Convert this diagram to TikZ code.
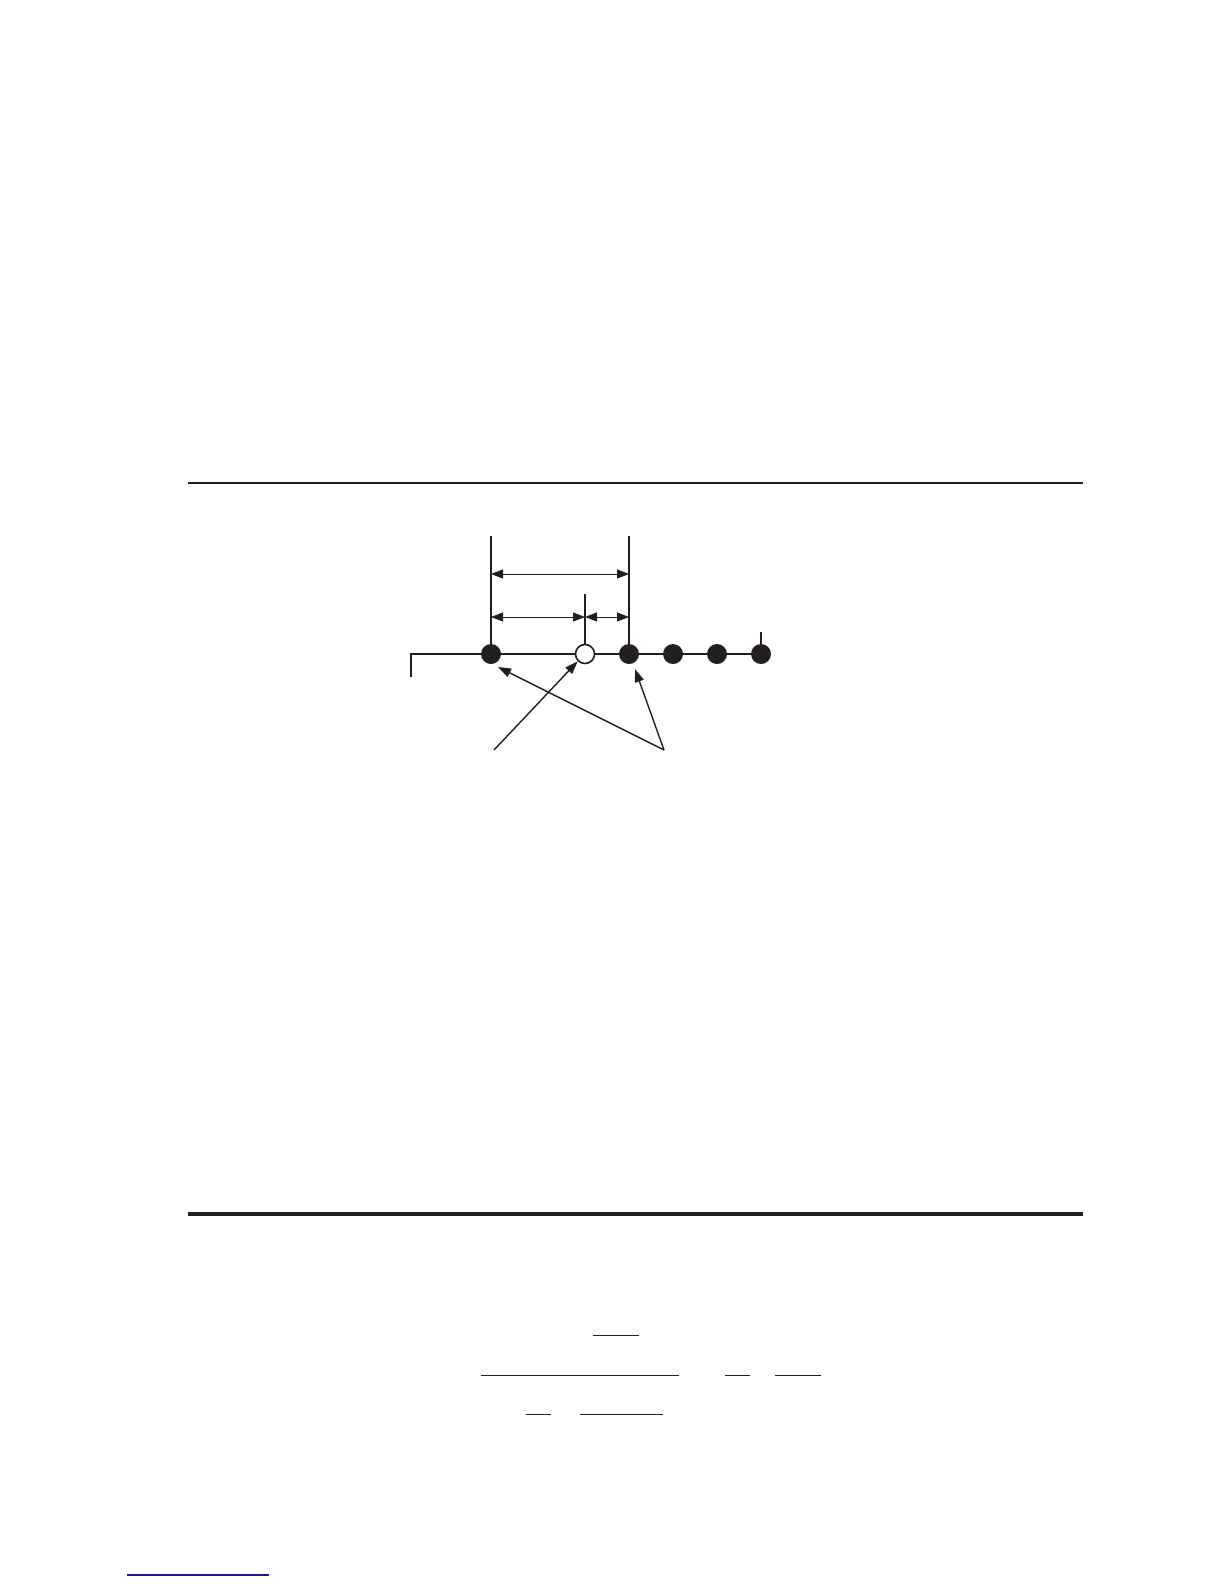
\documentclass[tikz,border=0pt]{standalone}
\usetikzlibrary{arrows.meta}
\definecolor{ink}{HTML}{231F20}
\definecolor{linkblue}{HTML}{1A1A8C}
\tikzset{
  dot/.style={circle,fill=ink,inner sep=0pt,minimum size=20pt},
  hollow/.style={circle,draw=ink,fill=white,line width=1.6pt,inner sep=0pt,minimum size=19pt},
  dim/.style={line width=1pt,draw=ink,{Triangle[length=12pt,width=9pt]}-{Triangle[length=12pt,width=9pt]}},
  pointer/.style={line width=1.4pt,draw=ink,-{Triangle[length=13pt,width=9pt]}},
  rule/.style={draw=ink,line cap=butt},
  fracbar/.style={draw=ink,line width=1pt}
}
\begin{document}
\begin{tikzpicture}[x=1pt,y=-1pt]
\useasboundingbox (0,0) rectangle (1224,1584);
% horizontal rules
\draw[rule,line width=2.2pt] (188,483) -- (1083,483);
\draw[rule,line width=3.3pt] (188,1214) -- (1083,1214);
% chain line
\coordinate (start) at (411,677);
\coordinate (corner) at (411,654);
\coordinate (end) at (761,654);
\draw[draw=ink,line width=2pt] (start) -- (corner) -- (end);
% vertical guide lines
\coordinate (ltop) at (491,536);
\coordinate (rtop) at (629,536);
\coordinate (mtop) at (585,594);
\coordinate (etop) at (761,632);
\draw[draw=ink,line width=1.9pt] (ltop) -- (491,654);
\draw[draw=ink,line width=1.2pt] (rtop) -- (629,654);
\draw[draw=ink,line width=1.5pt] (mtop) -- (585,654);
\draw[draw=ink,line width=1.6pt] (etop) -- (end);
% nodes
\node[dot] (d1) at (491,654) {};
\node[hollow] (o) at (585,654) {};
\node[dot] (d2) at (629,654) {};
\node[dot] (d3) at (673,654) {};
\node[dot] (d4) at (717,654) {};
\node[dot] (d5) at (761,654) {};
% dimension arrows
\draw[dim] (491,574) -- (629,574);
\draw[dim] (491,617) -- (585,617);
\draw[dim] (585,617) -- (629,617);
% pointer arrows
\coordinate (pA) at (494,750);
\coordinate (pB) at (664,750);
\draw[pointer] (pA) -- (o.225);
\draw[pointer] (pB) -- ([shift={(7,13)}]d1.center);
\draw[pointer] (pB) -- ([shift={(6,15)}]d2.center);
% fraction bars
\draw[fracbar] (593,1335) -- (639,1335);
\draw[fracbar] (481,1375) -- (679,1375);
\draw[fracbar] (725,1375) -- (750,1375);
\draw[fracbar] (775,1375) -- (821,1375);
\draw[fracbar] (526,1414) -- (551,1414);
\draw[fracbar] (580,1414) -- (663,1414);
% footer link line
\draw[draw=linkblue,line width=1.2pt] (127,1575) -- (269,1575);
\end{tikzpicture}
\end{document}
